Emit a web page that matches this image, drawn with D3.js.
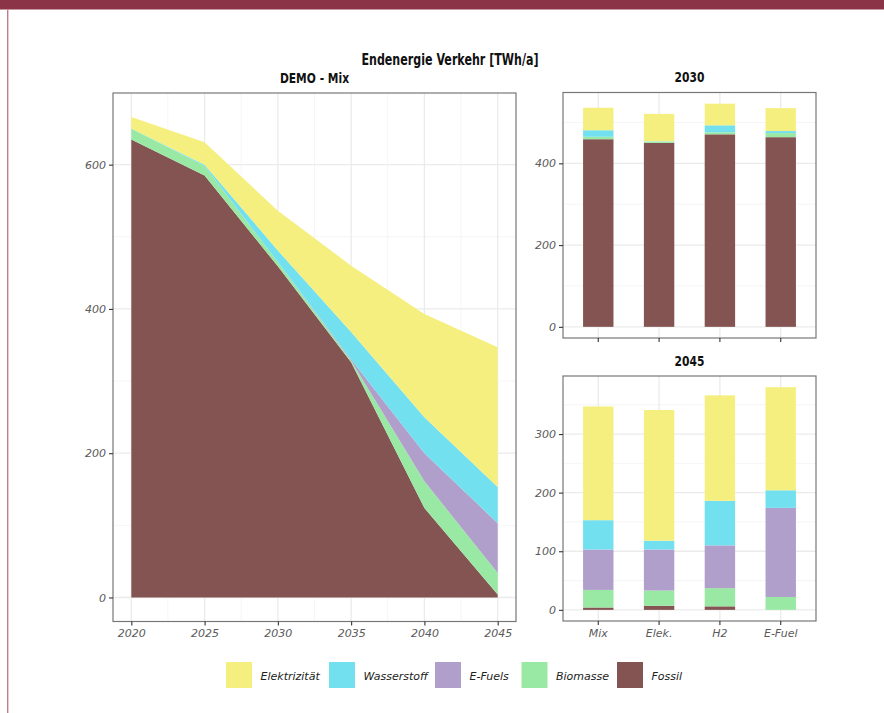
<!DOCTYPE html>
<html>
<head>
<meta charset="utf-8">
<script src="https://cdn.jsdelivr.net/npm/d3@7"></script>
<style>
  body { margin: 0; background: #fff; }
  svg text { font-family: "DejaVu Sans", sans-serif; }
  .ttl { font-family: "DejaVu Sans", sans-serif; font-weight: bold; }
</style>
</head>
<body>
<svg class="chart"></svg>
<script>
// series, bottom to top
var carriers = ["Fossil", "Biomasse", "E-Fuels", "Wasserstoff", "Elektrizität"];
var legendOrder = ["Elektrizität", "Wasserstoff", "E-Fuels", "Biomasse", "Fossil"];
var colors = ["#845453", "#99e9a4", "#b09fcb", "#73e0f0", "#f5ef80"];

// DEMO - Mix path
var years = [2020, 2025, 2030, 2035, 2040, 2045];
var mixFossil      = [635, 585, 459, 326, 124, 4];
var mixBiomasse    = [15, 13, 6, 2, 37, 30];
var mixEFuels      = [0, 0, 0, 2, 39, 69];
var mixWasserstoff = [0, 2, 16, 38, 50, 50];
var mixElektrizitaet = [16, 31, 55, 92, 143, 194];

// scenarios
var scenarios = ["Mix", "Elek.", "H2", "E-Fuel"];
var fossil2030      = [459, 450, 471, 464];
var biomasse2030    = [6, 3, 5, 10];
var efuels2030      = [0, 0, 0, 0];
var wasserstoff2030 = [16, 1, 17, 5];
var elektrizitaet2030 = [55, 67, 53, 56];

var fossil2045      = [4, 7, 6, 0];
var biomasse2045    = [30, 26, 31, 22];
var efuels2045      = [69, 70, 73, 152];
var wasserstoff2045 = [50, 15, 76, 30];
var elektrizitaet2045 = [194, 223, 180, 176];

var yTicksLeft = [0, 200, 400, 600];
var yTicks2030 = [0, 200, 400];
var yTicks2045 = [0, 100, 200, 300];

var svg = d3.select(".chart").attr("width", 884).attr("height", 713);
var color = d3.scaleOrdinal().domain(carriers).range(colors);
var gridMajor = "#ebebeb", gridMinor = "#f3f3f3", tickCol = "#5a5a5a";

// page frame
svg.append("rect").attr("x", 0).attr("y", 0).attr("width", 884).attr("height", 9.5).attr("fill", "#8b3347");
svg.append("line").attr("x1", 7.7).attr("x2", 7.7).attr("y1", 9.5).attr("y2", 713)
    .attr("stroke", "#c07c88").attr("stroke-width", 1.4);

// condensed bold title text (squeezed horizontally)
function title(x, y, size, txt) {
    svg.append("text").attr("class", "ttl")
        .attr("transform", "translate(" + x + "," + y + ") scale(0.74,1)")
        .attr("text-anchor", "middle").attr("font-size", size).attr("fill", "#111")
        .text(txt);
}

title(450, 64.5, 15, "Endenergie Verkehr [TWh/a]");

function rows(keys, cols) {
    return keys.map(function(k, i) {
        var r = {key: k};
        carriers.forEach(function(c, j) { r[c] = cols[j][i]; });
        return r;
    });
}

var stack = d3.stack().keys(carriers);

function styleAxis(ax) {
    ax.select(".domain").remove();
    ax.selectAll("line").attr("stroke", "#333").attr("stroke-width", 1.1);
    ax.selectAll("text").attr("font-size", 11).attr("font-style", "italic").attr("fill", tickCol)
        .style("font-family", "'DejaVu Sans', sans-serif");
    return ax;
}

function yAxis(g, y, ticks, x0) {
    styleAxis(g.append("g").attr("transform", "translate(" + x0 + ",0)")
        .call(d3.axisLeft(y).tickValues(ticks).tickSize(4).tickPadding(3)));
}

function hGrid(g, y, x0, x1, major, minor) {
    minor.forEach(function(v) {
        g.append("line").attr("x1", x0).attr("x2", x1).attr("y1", y(v)).attr("y2", y(v))
            .attr("stroke", gridMinor).attr("stroke-width", 0.8);
    });
    major.forEach(function(v) {
        g.append("line").attr("x1", x0).attr("x2", x1).attr("y1", y(v)).attr("y2", y(v))
            .attr("stroke", gridMajor).attr("stroke-width", 1.3);
    });
}

function border(g, x0, y0, x1, y1) {
    g.append("rect").attr("x", x0).attr("y", y0).attr("width", x1 - x0).attr("height", y1 - y0)
        .attr("fill", "none").attr("stroke", "#777").attr("stroke-width", 1.2);
}

// ---- left panel: area chart ----
(function() {
    var L = 113, R = 516, T = 93, B = 621.5;
    var g = svg.append("g");
    var data = rows(years, [mixFossil, mixBiomasse, mixEFuels, mixWasserstoff, mixElektrizitaet]);
    var stacked = stack(data);
    var maxV = d3.max(stacked[stacked.length - 1], function(d) { return d[1]; });
    var pad = maxV * 0.05;
    var x = d3.scaleLinear().domain([2020 - 1.25, 2045 + 1.25]).range([L, R]);
    var y = d3.scaleLinear().domain([-pad, maxV + pad]).range([B, T]);

    hGrid(g, y, L, R, yTicksLeft, [100, 300, 500]);
    d3.range(2022.5, 2045, 5).forEach(function(v) {
        g.append("line").attr("x1", x(v)).attr("x2", x(v)).attr("y1", T).attr("y2", B)
            .attr("stroke", gridMinor).attr("stroke-width", 0.8);
    });
    years.forEach(function(v) {
        g.append("line").attr("x1", x(v)).attr("x2", x(v)).attr("y1", T).attr("y2", B)
            .attr("stroke", gridMajor).attr("stroke-width", 1.3);
    });

    var area = d3.area()
        .x(function(d) { return x(d.data.key); })
        .y0(function(d) { return y(d[0]); })
        .y1(function(d) { return y(d[1]); });

    g.selectAll("path.layer").data(stacked).enter().append("path")
        .attr("class", "layer")
        .attr("d", area)
        .attr("fill", function(d) { return color(d.key); });

    border(g, L, T, R, B);
    yAxis(g, y, yTicksLeft, L);

    styleAxis(g.append("g").attr("transform", "translate(0," + B + ")")
        .call(d3.axisBottom(x).tickValues(years).tickFormat(d3.format("d")).tickSize(4).tickPadding(4)));

    title((L + R) / 2, 82.5, 14.5, "DEMO - Mix");
})();

// ---- right panels: stacked bars ----
function barPanel(name, cols, ticks, minorTicks, T, B, showX) {
    var L = 563, R = 816;
    var g = svg.append("g");
    var data = rows(scenarios, cols);
    var stacked = stack(data);
    var maxV = d3.max(stacked[stacked.length - 1], function(d) { return d[1]; });
    var pad = maxV * 0.05;
    var x = d3.scaleBand().domain(scenarios).range([L, R]).paddingOuter(0.08);
    var y = d3.scaleLinear().domain([-pad, maxV + pad]).range([B, T]);
    var bw = x.step() * 0.5;

    hGrid(g, y, L, R, ticks, minorTicks);
    scenarios.forEach(function(s) {
        var cx = x(s) + x.bandwidth() / 2;
        g.append("line").attr("x1", cx).attr("x2", cx).attr("y1", T).attr("y2", B)
            .attr("stroke", gridMajor).attr("stroke-width", 1.3);
    });

    g.selectAll("g.layer").data(stacked).enter().append("g")
        .attr("class", "layer")
        .attr("fill", function(d) { return color(d.key); })
        .selectAll("rect").data(function(d) { return d; }).enter().append("rect")
        .attr("x", function(d) { return x(d.data.key) + x.bandwidth() / 2 - bw / 2; })
        .attr("width", bw)
        .attr("y", function(d) { return y(d[1]); })
        .attr("height", function(d) { return y(d[0]) - y(d[1]); });

    border(g, L, T, R, B);
    yAxis(g, y, ticks, L);

    var ax = styleAxis(g.append("g").attr("transform", "translate(0," + B + ")")
        .call(d3.axisBottom(x).tickSize(4).tickPadding(4)));
    if (!showX) ax.selectAll("text").remove();

    title((L + R) / 2, T - 10.5, 14.5, name);
}

barPanel("2030", [fossil2030, biomasse2030, efuels2030, wasserstoff2030, elektrizitaet2030],
    yTicks2030, [100, 300, 500], 92.5, 338, false);
barPanel("2045", [fossil2045, biomasse2045, efuels2045, wasserstoff2045, elektrizitaet2045],
    yTicks2045, [50, 150, 250, 350], 376, 621, true);

// ---- legend ----
var legendX = [226, 329, 435, 521.5, 617];
var lg = svg.append("g");
legendOrder.forEach(function(k, i) {
    lg.append("rect").attr("x", legendX[i]).attr("y", 662).attr("width", 26).attr("height", 26)
        .attr("fill", color(k));
    lg.append("text").attr("x", legendX[i] + 34.5).attr("y", 679.5)
        .attr("font-size", 11).attr("font-style", "italic").attr("fill", "#222").text(k);
});
</script>
</body>
</html>
